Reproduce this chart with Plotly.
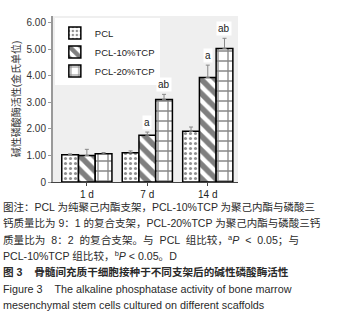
import plotly.graph_objects as go

# ---------------- data ----------------
categories = ["1 d", "7 d", "14 d"]
series_names = ["PCL", "PCL-10%TCP", "PCL-20%TCP"]
pcl_values = [1.03, 1.10, 1.91]
pcl_errors = [0.03, 0.07, 0.16]
tcp10_values = [1.00, 1.76, 3.93]
tcp10_errors = [0.23, 0.12, 0.47]
tcp20_values = [1.06, 3.11, 5.03]
tcp20_errors = [0.05, 0.19, 0.38]
# significance labels: (category index, series index, label)
sig_cat = [1, 1, 2, 2]
sig_series = [1, 2, 1, 2]
sig_text = ["a", "ab", "a", "ab"]
y_tick_vals = [0, 1, 2, 3, 4, 5, 6]
y_tick_text = ["0", "1.00", "2.00", "3.00", "4.00", "5.00", "6.00"]
y_title = "碱性磷酸酶活性(金氏单位)"
caption_lines = [
    "图注：PCL 为纯聚己内酯支架，PCL-10%TCP 为聚己内酯与磷酸三",
    "钙质量比为 9：1 的复合支架，PCL-20%TCP 为聚己内酯与磷酸三钙",
    "质量比为  8：2  的复合支架。与  PCL  组比较，<sup>a</sup><i>P</i>  &lt;  0.05；与",
    "PCL-10%TCP 组比较，<sup>b</sup><i>P</i> &lt; 0.05。D",
    "<b>图 3    骨髓间充质干细胞接种于不同支架后的碱性磷酸酶活性</b>",
    "Figure 3    The alkaline phosphatase activity of bone marrow",
    "mesenchymal stem cells cultured on different scaffolds",
]
caption_sizes = [10.5, 10.5, 10.6, 10.6, 10.6, 10.8, 10.8]

values = [pcl_values, tcp10_values, tcp20_values]
errors = [pcl_errors, tcp10_errors, tcp20_errors]
patterns = [
    dict(shape=".", size=5, solidity=0.3, fgcolor="#222", bgcolor="white"),
    dict(shape="\\", size=10, solidity=0.55, fgcolor="#000", bgcolor="white"),
    dict(shape="+", size=10, solidity=0.25, fgcolor="#111", bgcolor="white"),
]

W, H = 338, 317
PL, PR, PT, PB = 53, 238, 16, 182  # plot area in pixels
ML, MR, MT, MB = PL, W - PR, PT, H - PB
XR = [-0.56, 2.5]
YR = [0, 6.25]
BARGAP = 0.17


def px_x(px):
    return (px - PL) / (PR - PL)


def px_y(py):
    return (PB - py) / (PB - PT)


FONT = "Liberation Sans, Arial, Noto Sans CJK SC, sans-serif"
CJK = "Liberation Sans, Arial, Noto Sans CJK SC, sans-serif"

fig = go.Figure()
for i in range(3):
    fig.add_trace(go.Bar(
        x=categories, y=values[i], name=series_names[i],
        marker=dict(color="white", pattern=patterns[i],
                    line=dict(color="#000", width=1.5)),
        error_y=dict(type="data", array=errors[i], arrayminus=[0] * 3,
                     symmetric=False, color="#888", thickness=1, width=2),
    ))

# significance letters
px_per_unit = (PR - PL) / (XR[1] - XR[0])
bar_w_px = px_per_unit * (1 - BARGAP) / 3
for c, s, t in zip(sig_cat, sig_series, sig_text):
    fig.add_annotation(
        x=categories[c], y=values[s][c] + errors[s][c], xref="x", yref="y",
        text=t, showarrow=False, yanchor="bottom", yshift=2,
        xshift=(s - 1) * bar_w_px,
        font=dict(family=FONT, size=10, color="#222"),
        bgcolor="white", borderpad=1,
    )

# caption
cap_y0 = 207
cap_dy = 16.3
for k, line in enumerate(caption_lines):
    fig.add_annotation(
        x=px_x(1), y=px_y(cap_y0 + k * cap_dy), xref="paper", yref="paper",
        text=line, showarrow=False, xanchor="left", yanchor="middle",
        font=dict(family=CJK, size=caption_sizes[k], color="#2a2a2a"),
    )

fig.update_layout(
    width=W, height=H,
    margin=dict(l=ML, r=MR, t=MT, b=MB, pad=0),
    paper_bgcolor="white", plot_bgcolor="#efefef",
    barmode="group", bargap=BARGAP, bargroupgap=0,
    showlegend=True,
    legend=dict(x=0.01, y=0.985, xanchor="left", yanchor="top",
                bgcolor="white", font=dict(family=FONT, size=9.5, color="#222"),
                itemwidth=30, tracegroupgap=0),
    font=dict(family=FONT, size=10, color="#333"),
)
fig.update_xaxes(
    range=XR, showgrid=False, showline=True, linecolor="#444", linewidth=1,
    ticks="outside", ticklen=3, tickcolor="#444",
    tickfont=dict(family=FONT, size=10, color="#222"), zeroline=False,
)
fig.update_yaxes(
    range=YR, tickvals=y_tick_vals, ticktext=y_tick_text,
    showgrid=False, showline=True, linecolor="#999", linewidth=2,
    ticks="outside", ticklen=3, tickcolor="#999",
    tickfont=dict(family=FONT, size=10, color="#333"), zeroline=False,
    title=dict(text=y_title, font=dict(family=CJK, size=10, color="#333"), standoff=4),
)
fig.write_html("out.html", config={"displayModeBar": False},
               post_script="document.body.style.margin='0';")
